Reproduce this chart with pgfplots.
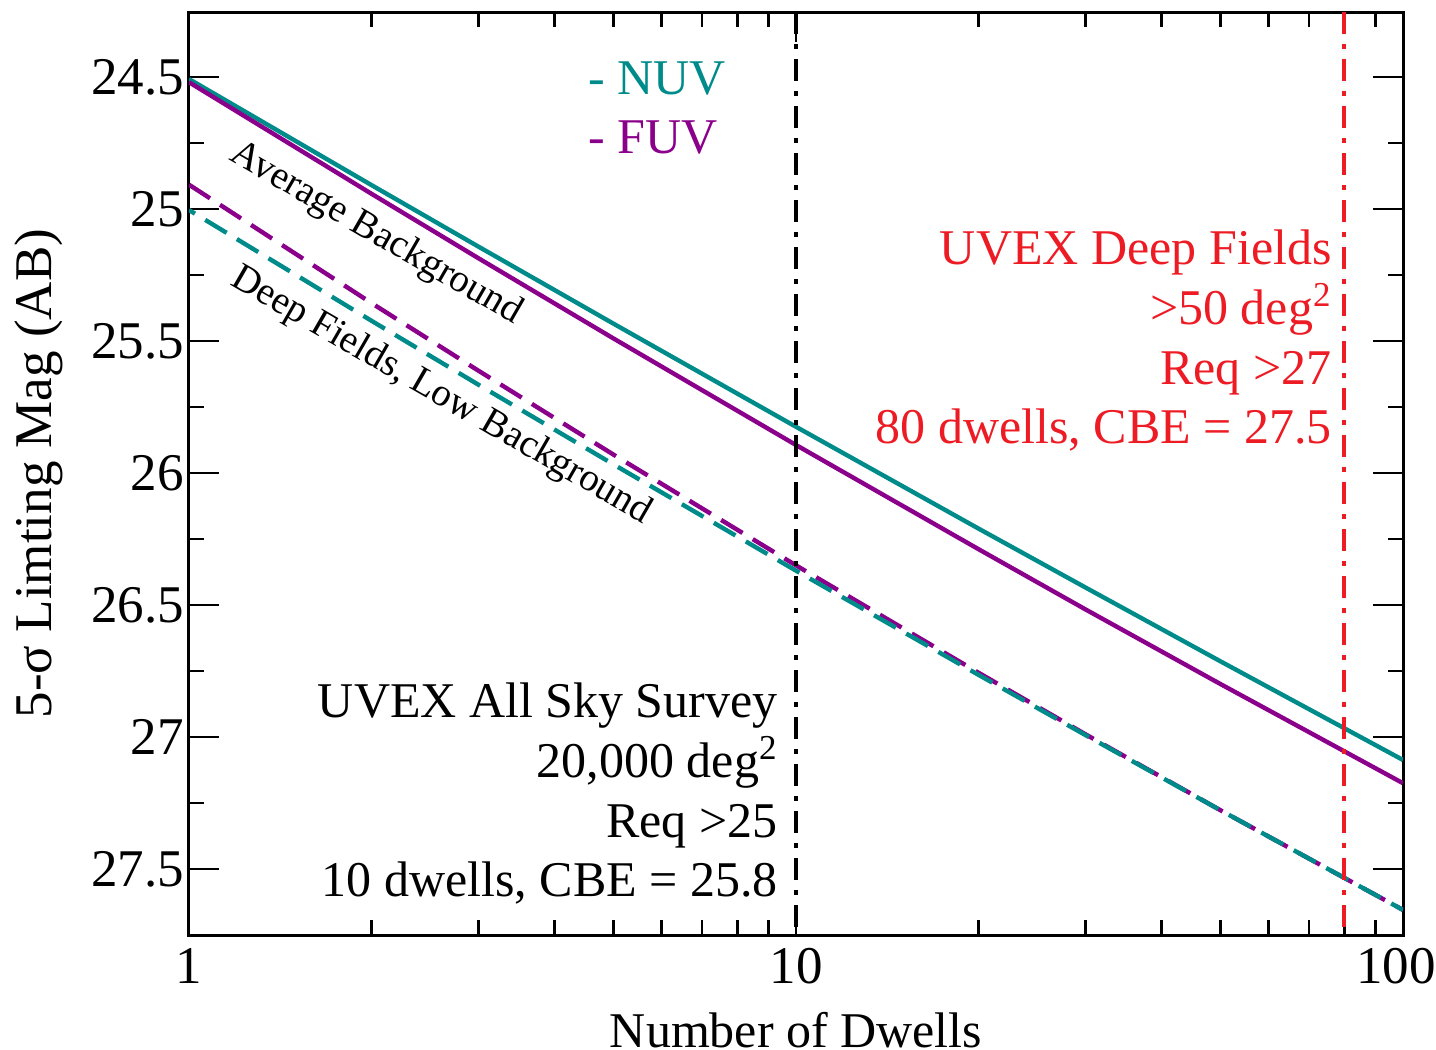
\documentclass[border=0pt]{standalone}
\usepackage{pgfplots}
\pgfplotsset{compat=1.18}
\usepackage{fontspec}
\setmainfont{Liberation Serif}
\definecolor{nuv}{RGB}{0,139,139}
\definecolor{fuv}{RGB}{139,0,139}
\definecolor{uvred}{RGB}{237,28,36}
\newcommand{\bigf}{\fontsize{25}{30}\selectfont}
\newcommand{\tickf}{\fontsize{26.5}{31}\selectfont}
\newcommand{\midf}{\fontsize{19.5}{23}\selectfont}

\begin{document}
\begin{tikzpicture}
\begin{axis}[
  scale only axis, width=607pt, height=461.5pt,
  xmode=log, xmin=1, xmax=100,
  ymin=24.254, ymax=27.75, y dir=reverse,
  xtick={1,10,100}, xticklabels={1,10,{100\hspace*{7pt}}},
  minor xtick={2,3,4,5,6,7,8,9,20,30,40,50,60,70,80,90},
  ytick={24.5,25,25.5,26,26.5,27,27.5},
  yticklabels={24.5,25,25.5,26,26.5,27,27.5},
  minor ytick={24.75,25.25,25.75,26.25,26.75,27.25},
  tick align=inside,
  major tick length=15pt, minor tick length=7.5pt,
  tick style={black, line width=1.4pt},
  axis line style={line width=1.5pt},
  tick label style={font=\tickf},
  xlabel style={font=\bigf},
  ylabel style={font=\tickf},
  /pgf/number format/assume math mode=true,
  xticklabel style={yshift=-3pt},
  yticklabel style={xshift=1pt},
  xlabel={Number of Dwells},
  ylabel={5-σ Limting Mag (AB)},
  xlabel style={yshift=-7.5pt},
  ylabel style={yshift=7.5pt},
]
% Average background, NUV
\addplot[nuv, line width=2.2pt] coordinates {
 (1,24.508) (2,24.910) (3,25.143) (5,25.434) (10,25.825)
 (20,26.211) (30,26.434) (50,26.713) (100,27.087)};
% Average background, FUV
\addplot[fuv, line width=2.2pt] coordinates {
 (1,24.520) (2,24.943) (3,25.187) (5,25.490) (10,25.894)
 (20,26.289) (30,26.517) (50,26.799) (100,27.175)};
% Deep fields, FUV
\addplot[fuv, line width=2.2pt, dash pattern=on 12.5pt off 6pt] coordinates {
 (1,24.908) (2,25.357) (3,25.613) (5,25.930) (10,26.350)
 (20,26.757) (30,26.990) (50,27.277) (100,27.655)};
% Deep fields, NUV
\addplot[nuv, line width=2.2pt, dash pattern=on 12.5pt off 6pt, dash phase=9pt] coordinates {
 (1,25.004) (2,25.424) (3,25.666) (5,25.967) (10,26.370)
 (20,26.765) (30,26.993) (50,27.277) (100,27.655)};
% Vertical markers
\addplot[black, line width=2pt, dash pattern=on 11pt off 5pt on 2.5pt off 5pt] coordinates {(10,24.254) (10,27.75)};
\addplot[uvred, line width=2pt, dash pattern=on 11pt off 5pt on 2.5pt off 5pt] coordinates {(80,24.254) (80,27.75)};

\node[font=\bigf, text=nuv, anchor=base west, inner sep=0pt] at (axis cs:4.544,24.5665) {- NUV};
\node[font=\bigf, text=fuv, anchor=base west, inner sep=0pt] at (axis cs:4.544,24.790) {- FUV};

\node[font=\midf, rotate=-30, anchor=center, inner sep=0pt] at (axis cs:2.033,25.095) {Average Background};
\node[font=\midf, rotate=-30, anchor=center, inner sep=0pt] at (axis cs:2.601,25.709) {Deep Fields, Low Background};

\node[font=\bigf, text=uvred, anchor=base east, inner sep=0pt] at (axis cs:76.4,25.209) {UVEX Deep Fields};
\node[font=\bigf, text=uvred, anchor=base east, inner sep=0pt] at (axis cs:76.4,25.436) {>50 deg\textsuperscript{2}};
\node[font=\bigf, text=uvred, anchor=base east, inner sep=0pt] at (axis cs:76.4,25.663) {Req >27};
\node[font=\bigf, text=uvred, anchor=base east, inner sep=0pt] at (axis cs:76.4,25.890) {80 dwells, CBE = 27.5};

\node[font=\bigf, anchor=base east, inner sep=0pt] at (axis cs:9.342,26.928) {UVEX All Sky Survey};
\node[font=\bigf, anchor=base east, inner sep=0pt] at (axis cs:9.342,27.154) {20,000 deg\textsuperscript{2}};
\node[font=\bigf, anchor=base east, inner sep=0pt] at (axis cs:9.342,27.379) {Req >25};
\node[font=\bigf, anchor=base east, inner sep=0pt] at (axis cs:9.342,27.604) {10 dwells, CBE = 25.8};
\end{axis}
\pgfresetboundingbox
\path ([shift={(-94.5pt,-57.5pt)}]current axis.south west) rectangle ([shift={(623.5pt,467.5pt)}]current axis.south west);
\end{tikzpicture}
\end{document}
